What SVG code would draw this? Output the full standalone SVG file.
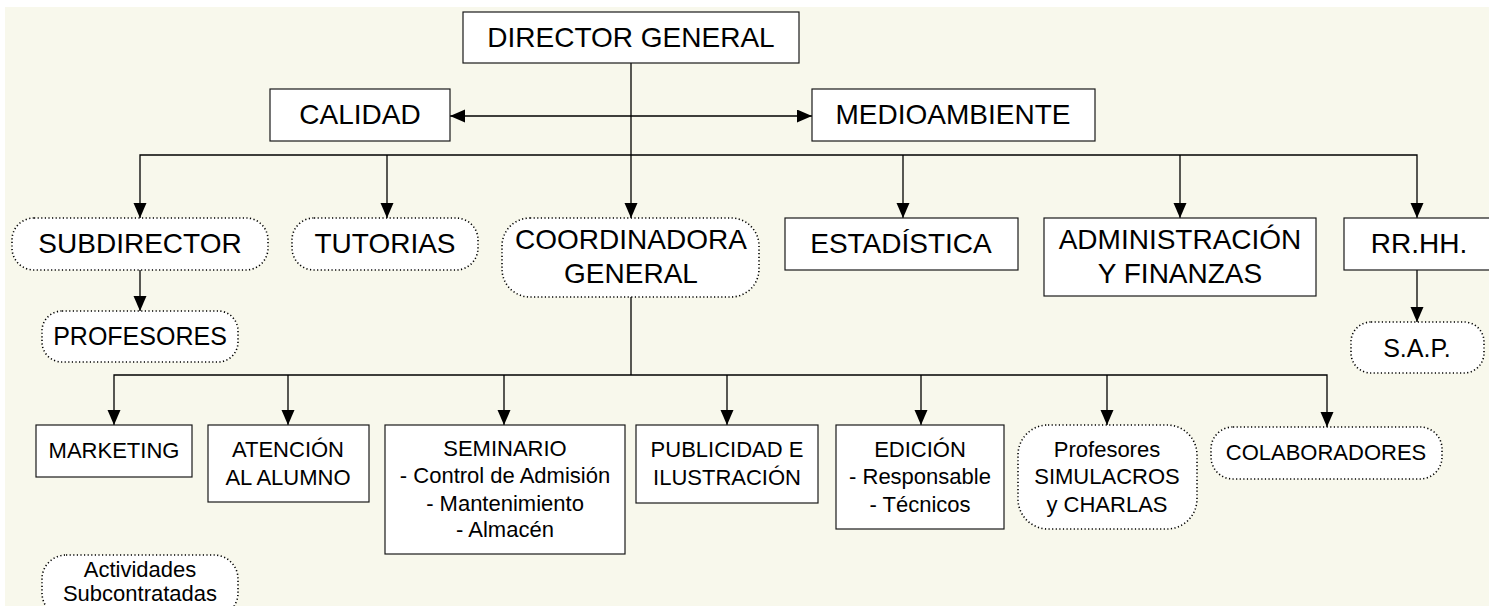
<svg xmlns="http://www.w3.org/2000/svg" width="1489" height="606" viewBox="0 0 1489 606">
<style>
.bg{fill:#f8f8ec}
.box{fill:#fff;stroke:#1a1a1a;stroke-width:1.2}
.dot{fill:#fff;stroke:#000;stroke-width:1.6;stroke-dasharray:1.2 2.4}
.ln{fill:none;stroke:#000;stroke-width:1.3}
text{font-family:"Liberation Sans",Arial,sans-serif;fill:#000;text-anchor:middle}
.big{font-size:28px}
.mid{font-size:25px}
.sm{font-size:22px}
</style>
<defs>
<marker id="ah" markerUnits="userSpaceOnUse" markerWidth="16" markerHeight="14" refX="15" refY="6.5" orient="auto-start-reverse">
<path d="M0,0 L15,6.5 L0,13 z" fill="#000"/>
</marker>
</defs>
<rect x="0" y="0" width="1489" height="606" fill="#fff"/>
<rect class="bg" x="5" y="7" width="1484" height="599"/>

<g id="connectors">
<line class="ln" x1="631" y1="63" x2="631" y2="218" marker-end="url(#ah)"/>
<line class="ln" x1="450" y1="116" x2="812" y2="116" marker-start="url(#ah)" marker-end="url(#ah)"/>
<polyline class="ln" points="140,218 140,155 1417,155 1417,218" marker-start="url(#ah)" marker-end="url(#ah)"/>
<line class="ln" x1="387" y1="155" x2="387" y2="218" marker-end="url(#ah)"/>
<line class="ln" x1="903" y1="155" x2="903" y2="218" marker-end="url(#ah)"/>
<line class="ln" x1="1180" y1="155" x2="1180" y2="218" marker-end="url(#ah)"/>
<line class="ln" x1="140" y1="270" x2="140" y2="311" marker-end="url(#ah)"/>
<line class="ln" x1="1417" y1="270" x2="1417" y2="322" marker-end="url(#ah)"/>
<line class="ln" x1="631" y1="297" x2="631" y2="375"/>
<polyline class="ln" points="114,425 114,375 1327,375 1327,427" marker-start="url(#ah)" marker-end="url(#ah)"/>
<line class="ln" x1="288" y1="375" x2="288" y2="425" marker-end="url(#ah)"/>
<line class="ln" x1="504" y1="375" x2="504" y2="425" marker-end="url(#ah)"/>
<line class="ln" x1="727" y1="375" x2="727" y2="425" marker-end="url(#ah)"/>
<line class="ln" x1="921" y1="375" x2="921" y2="425" marker-end="url(#ah)"/>
<line class="ln" x1="1107" y1="375" x2="1107" y2="425" marker-end="url(#ah)"/>
</g>

<g id="director"><rect class="box" x="463" y="12" width="336" height="51"/><text class="big" x="631" y="47">DIRECTOR GENERAL</text></g>
<g id="calidad"><rect class="box" x="270" y="89" width="180" height="52"/><text class="big" x="360" y="124">CALIDAD</text></g>
<g id="medioambiente"><rect class="box" x="812" y="89" width="283" height="52"/><text class="big" x="953" y="124">MEDIOAMBIENTE</text></g>

<g id="subdirector"><rect class="dot" x="12" y="218" width="256" height="52" rx="22"/><text class="big" x="140" y="253">SUBDIRECTOR</text></g>
<g id="tutorias"><rect class="dot" x="292" y="218" width="186" height="52" rx="22"/><text class="big" x="385" y="253">TUTORIAS</text></g>
<g id="coordinadora"><rect class="dot" x="502" y="218" width="257" height="79" rx="28"/><text class="big" x="631" y="249">COORDINADORA</text><text class="big" x="631" y="283">GENERAL</text></g>
<g id="estadistica"><rect class="box" x="785" y="218" width="233" height="52"/><text class="big" x="901" y="253">ESTADÍSTICA</text></g>
<g id="administracion"><rect class="box" x="1044" y="218" width="272" height="78"/><text class="big" x="1180" y="249">ADMINISTRACIÓN</text><text class="big" x="1180" y="283">Y FINANZAS</text></g>
<g id="rrhh"><rect class="box" x="1344" y="218" width="150" height="52"/><text class="big" x="1419" y="253">RR.HH.</text></g>

<g id="profesores"><rect class="dot" x="42" y="311" width="196" height="51" rx="20"/><text class="mid" x="140" y="345">PROFESORES</text></g>
<g id="sap"><rect class="dot" x="1351" y="322" width="133" height="51" rx="20"/><text class="mid" x="1417" y="357">S.A.P.</text></g>

<g id="marketing"><rect class="box" x="36" y="425" width="156" height="52"/><text class="sm" x="114" y="458">MARKETING</text></g>
<g id="atencion"><rect class="box" x="208" y="425" width="161" height="77"/><text class="sm" x="288" y="457">ATENCIÓN</text><text class="sm" x="288" y="485">AL ALUMNO</text></g>
<g id="seminario"><rect class="box" x="385" y="425" width="240" height="129"/><text class="sm" x="505" y="456">SEMINARIO</text><text class="sm" x="505" y="483">- Control de Admisión</text><text class="sm" x="505" y="511">- Mantenimiento</text><text class="sm" x="505" y="537">- Almacén</text></g>
<g id="publicidad"><rect class="box" x="636" y="425" width="182" height="78"/><text class="sm" x="727" y="457">PUBLICIDAD E</text><text class="sm" x="727" y="485">ILUSTRACIÓN</text></g>
<g id="edicion"><rect class="box" x="836" y="425" width="168" height="104"/><text class="sm" x="920" y="457">EDICIÓN</text><text class="sm" x="920" y="484">- Responsable</text><text class="sm" x="920" y="512">- Técnicos</text></g>
<g id="simulacros"><rect class="dot" x="1018" y="425" width="179" height="104" rx="30"/><text class="sm" x="1107" y="457">Profesores</text><text class="sm" x="1107" y="484">SIMULACROS</text><text class="sm" x="1107" y="512">y CHARLAS</text></g>
<g id="colaboradores"><rect class="dot" x="1211" y="427" width="231" height="52" rx="22"/><text class="sm" x="1326" y="460">COLABORADORES</text></g>
<g id="actividades"><rect class="dot" x="42" y="555" width="196" height="62" rx="24"/><text class="sm" x="140" y="577">Actividades</text><text class="sm" x="140" y="601">Subcontratadas</text></g>
</svg>
